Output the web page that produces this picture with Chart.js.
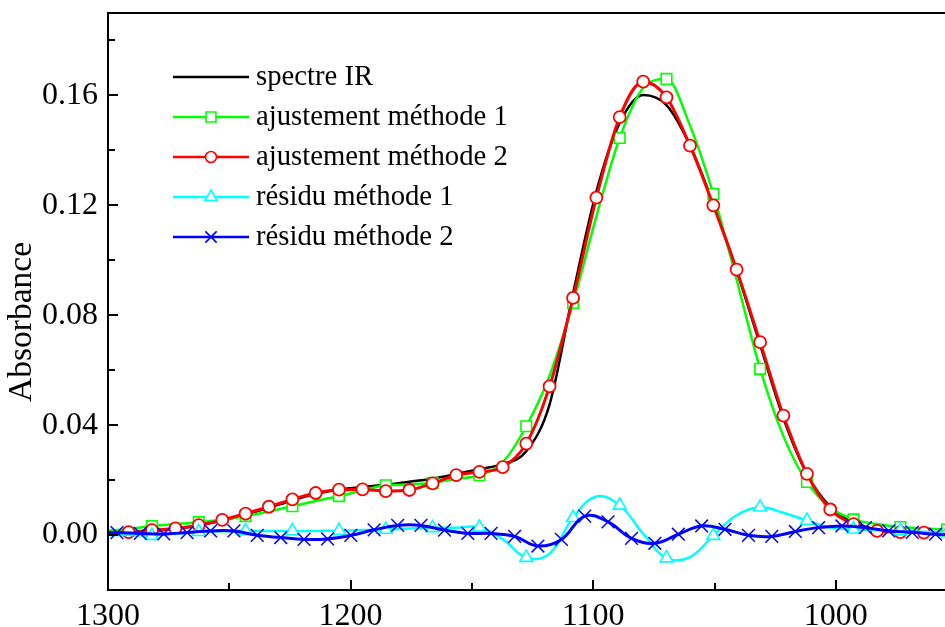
<!DOCTYPE html>
<html><head><meta charset="utf-8">
<script src="https://cdn.jsdelivr.net/npm/chart.js@4.4.1/dist/chart.umd.min.js"></script>
<style>html,body{margin:0;padding:0;background:#fff;overflow:hidden}canvas{display:block}</style>
</head><body>
<canvas id="c" width="945" height="627"></canvas>
<script>
const seriesNames = ['spectre IR', 'ajustement méthode 1', 'ajustement méthode 2', 'résidu méthode 1', 'résidu méthode 2'];
const axisTitleY = 'Absorbance';

// wavenumber grid (cm-1) of the spectrum and fits
const wavenumbers = [1301.1, 1291.5, 1281.9, 1272.2, 1262.6, 1252.9, 1243.3, 1233.7, 1224.0, 1214.4,
  1204.8, 1195.1, 1185.5, 1175.8, 1166.2, 1156.5, 1146.9, 1137.3, 1127.6, 1118.0,
  1108.3, 1098.7, 1089.1, 1079.4, 1069.8, 1060.1, 1050.5, 1040.9, 1031.2, 1021.6,
  1011.9, 1002.3, 992.7, 983.0, 973.4, 963.7, 954.1];
// grid of the second residual
const wavenumbersResidu2 = [1305.9, 1296.3, 1286.7, 1277.0, 1267.4, 1257.7, 1248.1, 1238.5, 1228.8, 1219.2,
  1209.5, 1199.9, 1190.3, 1180.6, 1171.0, 1161.3, 1151.7, 1142.1, 1132.4, 1122.8,
  1113.1, 1103.5, 1093.9, 1084.2, 1074.6, 1064.9, 1055.3, 1045.7, 1036.0, 1026.4,
  1016.7, 1007.1, 997.5, 987.8, 978.2, 968.5, 958.9, 949.3];

const spectreIR = [0.0008, 0.0010, 0.0015, 0.0023, 0.0035, 0.0053, 0.0074, 0.0099, 0.0126, 0.0150,
  0.0165, 0.0175, 0.0183, 0.0194, 0.0205, 0.0222, 0.0240, 0.0258, 0.0305, 0.0475,
  0.0880, 0.1250, 0.1500, 0.1602, 0.1565, 0.1418, 0.1205, 0.0962, 0.0692, 0.0425,
  0.0222, 0.0103, 0.0046, 0.0020, 0.0012, 0.0010, 0.0009];
const ajustement1 = [0.0015, 0.0022, 0.0033, 0.0040, 0.0047, 0.0056, 0.0069, 0.0086, 0.0105, 0.0124,
  0.0142, 0.0162, 0.0181, 0.0184, 0.0190, 0.0204, 0.0218, 0.0265, 0.0396, 0.0580,
  0.0845, 0.1160, 0.1445, 0.1627, 0.1660, 0.1490, 0.1241, 0.0930, 0.0605, 0.0360,
  0.0193, 0.0100, 0.0057, 0.0040, 0.0029, 0.0024, 0.0020];
const ajustement2 = [0.0008, 0.0011, 0.0018, 0.0024, 0.0036, 0.0055, 0.0078, 0.0103, 0.0130, 0.0153,
  0.0165, 0.0166, 0.0160, 0.0164, 0.0188, 0.0218, 0.0230, 0.0247, 0.0333, 0.0541,
  0.0863, 0.1228, 0.1521, 0.1650, 0.1593, 0.1417, 0.1200, 0.0966, 0.0702, 0.0435,
  0.0223, 0.0093, 0.0040, 0.0015, 0.0011, 0.0009, 0.0008];
const residu1 = [0.0000, 0.0000, -0.0002, 0.0005, 0.0012, 0.0014, 0.0015, 0.0015, 0.0015, 0.0015,
  0.0016, 0.0018, 0.0020, 0.0024, 0.0026, 0.0027, 0.0028, -0.0015, -0.0082, -0.0068,
  0.0063, 0.0140, 0.0108, 0.0005, -0.0084, -0.0080, -0.0002, 0.0072, 0.0101, 0.0081,
  0.0053, 0.0027, 0.0021, 0.0018, 0.0015, 0.0012, 0.0009];
const residu2 = [0.0009, 0.0009, 0.0006, 0.0004, 0.0009, 0.0015, 0.0015, -0.0001, -0.0009, -0.0016,
  -0.0014, -0.0001, 0.0019, 0.0035, 0.0035, 0.0018, 0.0006, 0.0006, -0.0005, -0.0040,
  -0.0016, 0.0069, 0.0048, -0.0012, -0.0030, 0.0003, 0.0033, 0.0021, -0.0001, -0.0005,
  0.0013, 0.0027, 0.0033, 0.0027, 0.0015, 0.0010, 0.0003, 0.0002];

const xTicks = [1300, 1200, 1100, 1000];
const xMinorTicks = [1250, 1150, 1050];
const yTicks = [0.00, 0.04, 0.08, 0.12, 0.16];
const yMinorTicks = [0.02, 0.06, 0.10, 0.14, 0.18];
const xLimits = [955, 1300];
const yLimits = [-0.02, 0.19];

const FONT = "'Liberation Serif', 'Times New Roman', serif";
const pts = (xs, ys) => xs.map((x, i) => ({x: x, y: ys[i]}));

const datasets = [
  {label: seriesNames[0], data: pts(wavenumbers, spectreIR), borderColor: '#000000', borderWidth: 2.5,
   pointRadius: 0, cubicInterpolationMode: 'monotone', order: 5, legendMarker: null},
  {label: seriesNames[1], data: pts(wavenumbers, ajustement1), borderColor: '#00ff00', borderWidth: 2.5,
   pointStyle: 'rect', pointRadius: c => (c.dataIndex > 0 && c.dataIndex % 2 === 0) ? 7.5 : 0,
   pointBorderWidth: 1.6, pointBackgroundColor: '#ffffff', pointBorderColor: '#00ff00',
   cubicInterpolationMode: 'monotone', order: 4, legendMarker: {style: 'rect', r: 7}},
  {label: seriesNames[2], data: pts(wavenumbers, ajustement2), borderColor: '#ff0000', borderWidth: 3,
   pointStyle: 'circle', pointRadius: c => (c.dataIndex > 0 && c.dataIndex < wavenumbers.length - 1) ? 6 : 0,
   pointBorderWidth: 1.8, pointBackgroundColor: '#ffffff', pointBorderColor: '#ff0000',
   cubicInterpolationMode: 'monotone', order: 3, legendMarker: {style: 'circle', r: 5.5}},
  {label: seriesNames[3], data: pts(wavenumbers, residu1), borderColor: '#00ffff', borderWidth: 2.5,
   pointStyle: 'triangle', pointRadius: c => (c.dataIndex > 0 && c.dataIndex % 2 === 0) ? 7.5 : 0,
   pointBorderWidth: 1.6, pointBackgroundColor: '#ffffff', pointBorderColor: '#00ffff',
   tension: 0.4, order: 2, legendMarker: {style: 'triangle', r: 7}},
  {label: seriesNames[4], data: pts(wavenumbersResidu2, residu2), borderColor: '#0000ff', borderWidth: 3,
   pointStyle: 'crossRot', pointRadius: c => (c.dataIndex > 0 && c.dataIndex < wavenumbersResidu2.length - 1) ? 9 : 0,
   pointBorderWidth: 1.5, pointBackgroundColor: '#0000ff', pointBorderColor: '#0000ff',
   tension: 0.4, order: 1, legendMarker: {style: 'crossRot', r: 8}}
];
datasets.forEach(d => { d.fill = false; d.clip = 0; d.pointHoverRadius = 0; });

const framePlugin = {
  id: 'frame',
  afterDatasetsDraw(chart) {
    const {ctx, chartArea: a, scales: {x, y}} = chart;
    ctx.save();
    ctx.strokeStyle = '#000';
    ctx.lineWidth = 2;
    ctx.beginPath();
    ctx.moveTo(a.left - 1, a.top); ctx.lineTo(a.right, a.top);
    ctx.moveTo(a.left, a.top); ctx.lineTo(a.left, a.bottom);
    ctx.moveTo(a.left - 1, a.bottom); ctx.lineTo(a.right, a.bottom);
    ctx.stroke();
    ctx.beginPath();
    xTicks.forEach(v => { const px = Math.round(x.getPixelForValue(v)); ctx.moveTo(px, a.bottom); ctx.lineTo(px, a.bottom - 10); });
    xMinorTicks.forEach(v => { const px = Math.round(x.getPixelForValue(v)); ctx.moveTo(px, a.bottom); ctx.lineTo(px, a.bottom - 7); });
    yTicks.forEach(v => { const py = Math.round(y.getPixelForValue(v)); ctx.moveTo(a.left, py); ctx.lineTo(a.left + 10, py); });
    yMinorTicks.forEach(v => { const py = Math.round(y.getPixelForValue(v)); ctx.moveTo(a.left, py); ctx.lineTo(a.left + 7, py); });
    ctx.stroke();
    // y axis title
    ctx.save();
    ctx.translate(22, 322);
    ctx.rotate(-Math.PI / 2);
    ctx.fillStyle = '#000';
    ctx.font = '33.5px ' + FONT;
    ctx.textAlign = 'center';
    ctx.textBaseline = 'middle';
    ctx.fillText(axisTitleY, 0, 0);
    ctx.restore();
    ctx.restore();
  },
  afterDraw(chart) {
    const ctx = chart.ctx;
    ctx.save();
    chart.data.datasets.forEach((ds, i) => {
      const yy = 77 + i * 40;
      ctx.strokeStyle = ds.borderColor;
      ctx.lineWidth = 2.5;
      ctx.beginPath(); ctx.moveTo(173, yy); ctx.lineTo(249, yy); ctx.stroke();
      if (ds.legendMarker) {
        ctx.fillStyle = '#ffffff';
        ctx.strokeStyle = ds.borderColor;
        ctx.lineWidth = 1.6;
        Chart.helpers.drawPoint(ctx, {pointStyle: ds.legendMarker.style, radius: ds.legendMarker.r, rotation: 0, borderWidth: 1.6}, 211, yy);
      }
      ctx.fillStyle = '#000';
      ctx.font = '28.7px ' + FONT;
      ctx.textBaseline = 'middle';
      ctx.textAlign = 'left';
      ctx.fillText(ds.label, 256, yy);
    });
    ctx.restore();
  }
};

new Chart(document.getElementById('c'), {
  type: 'line',
  data: {datasets: datasets},
  options: {
    responsive: false,
    animation: false,
    events: [],
    layout: {autoPadding: false, padding: {top: 13, left: 0, right: 0, bottom: 0}},
    plugins: {legend: {display: false}, tooltip: {enabled: false}},
    scales: {
      x: {
        type: 'linear', reverse: true, min: xLimits[0], max: xLimits[1],
        afterBuildTicks: s => { s.ticks = xTicks.map(v => ({value: v})); },
        afterFit: s => { s.height = 37; s.paddingLeft = 0; s.paddingRight = 0; },
        grid: {display: false, drawTicks: false},
        border: {display: false},
        ticks: {font: {family: FONT, size: 32}, color: '#000', padding: 7, maxRotation: 0, autoSkip: false,
                callback: v => String(v)}
      },
      y: {
        type: 'linear', min: yLimits[0], max: yLimits[1],
        afterBuildTicks: s => { s.ticks = yTicks.map(v => ({value: v})); },
        afterFit: s => { s.width = 108; s.paddingTop = 0; s.paddingBottom = 0; },
        grid: {display: false, drawTicks: false},
        border: {display: false},
        title: {display: false},
        ticks: {font: {family: FONT, size: 32}, color: '#000', padding: 10, autoSkip: false,
                callback: v => Number(v).toFixed(2)}
      }
    }
  },
  plugins: [framePlugin]
});
</script>
</body></html>
